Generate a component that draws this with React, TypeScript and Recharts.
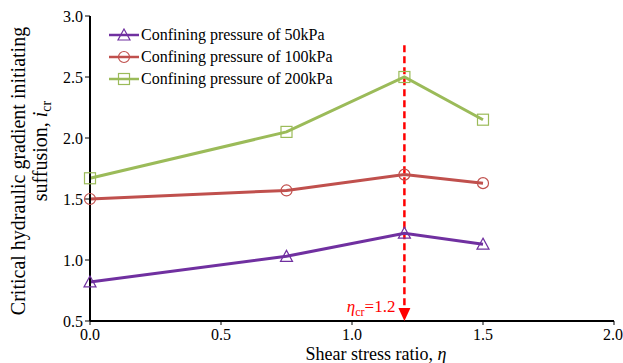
import { LineChart, Line, XAxis, YAxis, ReferenceLine, ReferenceDot } from 'recharts';

const shearRatio = [0, 0.75, 1.2, 1.5];
const p50 = [0.82, 1.03, 1.22, 1.13];
const p100 = [1.5, 1.57, 1.7, 1.63];
const p200 = [1.67, 2.05, 2.5, 2.15];
const xTicks = [0, 0.5, 1.0, 1.5, 2.0];
const yTicks = [0.5, 1.0, 1.5, 2.0, 2.5, 3.0];
const etaCr = 1.2;

const data = shearRatio.map((x, i) => ({ x, p50: p50[i], p100: p100[i], p200: p200[i] }));

const PURPLE = '#7030A0';
const RED = '#C0504D';
const GREEN = '#9BBB59';
const FONT = 'Liberation Serif, Times New Roman, serif';

const series = [
  { key: 'p50', name: 'Confining pressure of 50kPa', color: PURPLE, shape: 'triangle' },
  { key: 'p100', name: 'Confining pressure of 100kPa', color: RED, shape: 'circle' },
  { key: 'p200', name: 'Confining pressure of 200kPa', color: GREEN, shape: 'square' },
];

const Marker = ({ cx, cy, shape, color }: any) => {
  if (cx == null || cy == null) return null;
  if (shape === 'triangle')
    return <path d={`M${cx},${cy - 6} L${cx + 6},${cy + 5} L${cx - 6},${cy + 5} Z`} fill="none" stroke={color} strokeWidth={1.2} />;
  if (shape === 'circle') return <circle cx={cx} cy={cy} r={5.5} fill="none" stroke={color} strokeWidth={1.2} />;
  return <rect x={cx - 5.5} y={cy - 5.5} width={11} height={11} fill="none" stroke={color} strokeWidth={1.2} />;
};

const LegendBox = () => (
  <div style={{ position: 'absolute', left: 109, top: 24, fontFamily: FONT, fontSize: 16, color: '#000' }}>
    {series.map((s) => (
      <div key={s.key} style={{ display: 'flex', alignItems: 'center', height: 22 }}>
        <svg width={32} height={14}>
          <line x1={0} y1={7} x2={30} y2={7} stroke={s.color} strokeWidth={2.5} />
          <Marker cx={15} cy={7} shape={s.shape} color={s.color} />
        </svg>
        <span>{s.name}</span>
      </div>
    ))}
  </div>
);

const ArrowHead = ({ cx, cy }: any) => (
  <g>
    <path d={`M${cx - 6},${cy - 13} L${cx + 6},${cy - 13} L${cx},${cy} Z`} fill="#FF0000" />
    <text x={cx - 9} y={cy - 9} textAnchor="end" fill="#FF0000" fontFamily={FONT} fontSize={17}>
      <tspan fontStyle="italic">η</tspan>
      <tspan fontSize={12} dy={4}>cr</tspan>
      <tspan dy={-4}>=1.2</tspan>
    </text>
  </g>
);

const YTitle = () => (
  <g fontFamily={FONT} fontSize={20} fill="#000">
    <text transform="translate(25,171) rotate(-90)" textAnchor="middle">
      Critical hydraulic gradient initiating
    </text>
    <text transform="translate(47,151) rotate(-90)" textAnchor="middle">
      suffusion, <tspan fontStyle="italic">i</tspan>
      <tspan fontSize={14} dy={4}>cr</tspan>
    </text>
  </g>
);

const XTitle = () => (
  <text x={376} y={360} textAnchor="middle" fontFamily={FONT} fontSize={18} fill="#000">
    Shear stress ratio, <tspan fontStyle="italic">η</tspan>
  </text>
);

export default function App() {
  return (
    <div style={{ position: 'absolute', left: 0, top: 0, width: 623, height: 363, background: '#fff' }}>
      <LineChart width={623} height={363} data={data} margin={{ top: 16, right: 9, left: 40, bottom: 12 }}>
        <XAxis
          dataKey="x"
          type="number"
          domain={[0, 2]}
          ticks={xTicks}
          tickFormatter={(v: number) => v.toFixed(1)}
          height={30}
          axisLine={{ stroke: '#000', strokeWidth: 2 }}
          tickLine={{ stroke: '#000' }}
          tickSize={4}
          tickMargin={4}
          tick={{ fill: '#000', fontFamily: FONT, fontSize: 16 }}
          label={{ content: () => <XTitle /> }}
        />
        <YAxis
          type="number"
          domain={[0.5, 3]}
          ticks={yTicks}
          tickFormatter={(v: number) => v.toFixed(1)}
          width={50}
          axisLine={{ stroke: '#000', strokeWidth: 2 }}
          tickLine={{ stroke: '#000' }}
          tickSize={5}
          tick={{ fill: '#000', fontFamily: FONT, fontSize: 16 }}
          label={{ content: () => <YTitle /> }}
        />
        <ReferenceLine
          segment={[{ x: etaCr, y: 2.76 }, { x: etaCr, y: 0.58 }]}
          stroke="#FF0000"
          strokeWidth={2.5}
          strokeDasharray="7 4"
        />
        <ReferenceDot x={etaCr} y={0.5} r={0} shape={(p: any) => <ArrowHead {...p} />} />
        {series.map((s) => (
          <Line
            key={s.key}
            dataKey={s.key}
            name={s.name}
            stroke={s.color}
            strokeWidth={3}
            isAnimationActive={false}
            dot={(p: any) => <Marker key={`${s.key}-${p.index}`} cx={p.cx} cy={p.cy} shape={s.shape} color={s.color} />}
            activeDot={false}
          />
        ))}
      </LineChart>
      <LegendBox />
    </div>
  );
}
